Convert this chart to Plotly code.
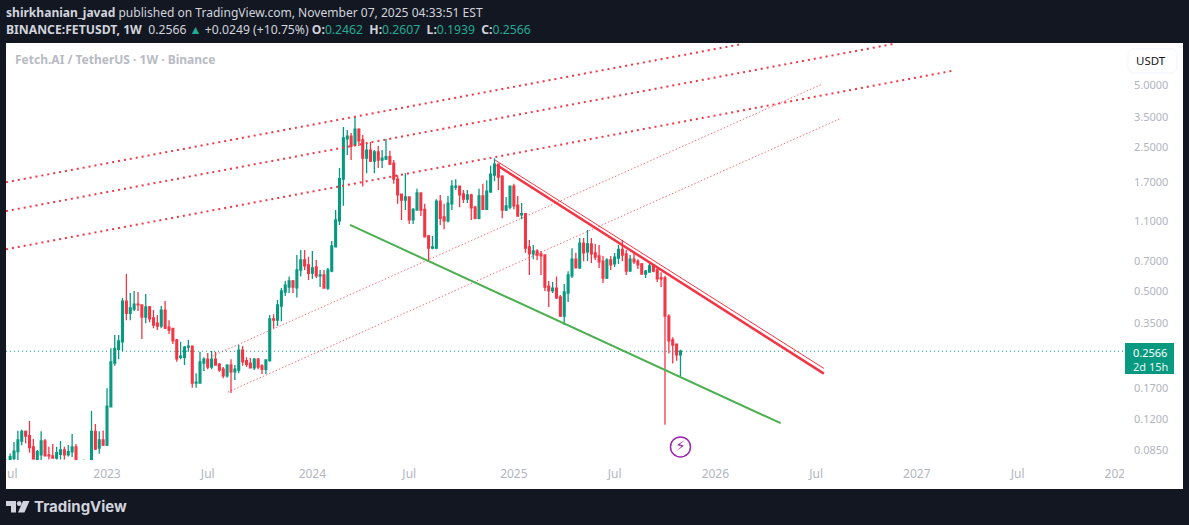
import pandas as pd
import plotly.graph_objects as go

# weekly candles, first one is the week of 2022-07-04
first_week = "2022-07-04"

opens = [
    .068, .0763, .0778, .0837, .0943, .105, .100, .0882, .074, .0807,
    .0943, .0807, .0798, .078, .0813, .0853, .0807, .0835, .0882, .074,
    .069, .072, .073, .105, .0872, .0954, .0902, .138, .225, .262,
    .285, .449, .392, .411, .434, .430, .376, .421, .372, .351,
    .340, .406, .336, .331, .291, .240, .240, .269, .272, .180,
    .180, .225, .235, .215, .235, .222, .210, .195, .220, .204,
    .208, .260, .231, .225, .213, .235, .218, .210, .231, .368,
    .363, .425, .497, .525, .562, .52, .635, .710, .672, .613,
    .657, .595, .601, .519, .627, .822, 1.10, 1.75, 2.74, 2.83,
    2.56, 3.06, 2.71, 2.21, 2.42, 2.14, 2.37, 2.165, 2.19, 2.25,
    2.09, 1.75, 1.48, 1.387, 1.435, 1.11, 1.24, 1.50, 1.25, .928,
    .81, .81, 1.37, 1.15, 1.10, 1.33, 1.60, 1.62, 1.485, 1.40,
    1.467, 1.28, 1.13, 1.45, 1.25, 1.52, 1.83, 2.07, 1.81, 1.24,
    1.28, 1.62, 1.31, 1.174, 1.19, .822, .76, .785, .76, .751,
    .531, .503, .519, .47, .38, .491, .595, .717, .65, .858,
    .777, .85, .768, .743, .702, .581, .71, .68, .725, .80,
    .76, .627, .717, .702, .68, .607, .62, .672, .635, .581,
    .581, .38, .291, .278, .2462,
]
highs = [
    .0768, .082, .0933, .1058, .107, .106, .118, .0965, .0853, .105,
    .0965, .0885, .0912, .0885, .0943, .0885, .0902, .102, .0912, .0755,
    .0768, .075, .132, .114, .105, .106, .170, .265, .308, .308,
    .465, .607, .491, .503, .497, .432, .486, .425, .406, .384,
    .425, .449, .363, .331, .294, .285, .272, .291, .272, .201,
    .255, .240, .252, .257, .255, .225, .215, .222, .235, .220,
    .275, .272, .240, .238, .238, .238, .222, .235, .384, .388,
    .455, .519, .562, .590, .568, .751, .794, .794, .737, .785,
    .710, .635, .635, .650, .878, 1.24, 1.98, 3.13, 3.03, 2.93,
    3.53, 3.09, 2.86, 2.62, 2.65, 2.42, 2.53, 2.42, 2.74, 2.40,
    2.165, 1.83, 1.485, 1.87, 1.44, 1.27, 1.57, 1.50, 1.33, .939,
    .928, 1.40, 1.467, 1.33, 1.45, 1.73, 1.75, 1.62, 1.55, 1.55,
    1.485, 1.30, 1.57, 1.66, 1.73, 2.03, 2.21, 2.07, 1.83, 1.435,
    1.62, 1.66, 1.45, 1.34, 1.19, .888, .84, .80, .785, .751,
    .562, .556, .59, .481, .543, .627, .81, .77, .908, .908,
    .993, .908, .85, .84, .743, .725, .743, .768, .84, .888,
    .794, .751, .768, .717, .687, .635, .695, .68, .65, .62,
    .595, .388, .30, .278, .2607,
]
lows = [
    .065, .0747, .0745, .074, .090, .092, .0827, .0765, .072, .074,
    .0793, .0768, .0775, .0768, .0768, .0768, .0793, .0788, .072, .066,
    .064, .067, .070, .0853, .0817, .0892, .0892, .138, .218, .235,
    .257, .363, .363, .402, .402, .294, .351, .355, .332, .325,
    .332, .329, .311, .278, .228, .235, .220, .255, .171, .171,
    .180, .206, .210, .210, .218, .204, .190, .191, .161, .186,
    .201, .218, .215, .213, .208, .210, .199, .199, .228, .331,
    .340, .359, .475, .491, .491, .468, .590, .635, .568, .575,
    .581, .525, .519, .508, .620, .822, 1.05, 1.30, 2.29, 2.165,
    2.53, 2.53, 1.61, 1.87, 2.12, 1.87, 1.98, 1.98, 2.165, 2.05,
    1.66, 1.33, 1.11, 1.24, 1.06, 1.06, 1.24, 1.16, .92, .70,
    .80, .80, 1.05, 1.00, 1.08, 1.24, 1.55, 1.28, 1.34, 1.34,
    1.11, 1.12, 1.12, 1.24, 1.25, 1.50, 1.71, 1.55, 1.13, 1.225,
    1.25, 1.25, 1.15, 1.12, .77, .60, .717, .71, .60, .503,
    .42, .491, .46, .376, .344, .444, .581, .65, .643, .70,
    .70, .687, .71, .65, .55, .575, .635, .657, .68, .70,
    .60, .627, .68, .643, .607, .581, .62, .62, .556, .525,
    .113, .25, .224, .231, .1939,
]
closes = [
    .072, .0793, .0843, .0954, .105, .0995, .0875, .0773, .0837, .0943,
    .080, .0798, .078, .0827, .0853, .0807, .0837, .0882, .074, .069,
    .072, .073, .105, .0862, .0954, .0902, .139, .228, .265, .288,
    .449, .392, .416, .434, .430, .376, .421, .368, .344, .340,
    .406, .332, .325, .288, .236, .243, .269, .272, .180, .182,
    .228, .235, .215, .235, .220, .208, .195, .220, .204, .210,
    .260, .228, .222, .213, .235, .215, .210, .233, .368, .363,
    .430, .503, .537, .562, .525, .635, .710, .665, .612, .650,
    .595, .601, .519, .635, .831, 1.11, 1.76, 2.77, 2.83, 2.53,
    3.06, 2.68, 2.21, 2.42, 2.14, 2.37, 2.165, 2.21, 2.25, 2.07,
    1.75, 1.467, 1.387, 1.435, 1.11, 1.25, 1.50, 1.24, .92, .81,
    .822, 1.37, 1.13, 1.10, 1.34, 1.62, 1.62, 1.467, 1.40, 1.467,
    1.27, 1.13, 1.45, 1.25, 1.53, 1.85, 2.07, 1.79, 1.24, 1.30,
    1.62, 1.30, 1.16, 1.19, .81, .76, .785, .751, .743, .525,
    .503, .519, .465, .38, .497, .601, .717, .65, .858, .768,
    .85, .76, .734, .695, .581, .71, .672, .734, .80, .751,
    .627, .717, .695, .672, .607, .627, .665, .627, .575, .575,
    .38, .288, .275, .2462, .2566,
]

last_price = 0.2566

# drawings on the chart: two dates, two prices each
channel_top_x = ["2022-07-03 13:00", "2026-02-22"]
channel_top_y = [1.69, 7.90]
channel_mid_x = ["2022-07-03 13:00", "2026-11-22"]
channel_mid_y = [1.225, 7.90]
channel_low_x = ["2022-07-03 13:00", "2027-03-08"]
channel_low_y = [0.80, 5.85]
pink_up_x = ["2023-07-11", "2026-07-17"]
pink_up_y = [0.243, 5.05]
pink_low_x = ["2023-08-08", "2026-08-21"]
pink_low_y = [0.1626, 3.46]
resist_x = ["2024-12-06", "2026-07-20"]
resist_y = [2.05, 0.20]
resist_thin_x = ["2024-12-03", "2026-07-20"]
resist_thin_y = [2.165, 0.212]
support_x = ["2024-03-16", "2026-05-03"]
support_y = [1.05, 0.115]

flash_x = ["2025-11-03"]
flash_y = [0.0883]

price_ticks = [5.0, 3.5, 2.5, 1.7, 1.1, 0.7, 0.5, 0.35, 0.17, 0.12, 0.085]
price_labels = ["5.0000", "3.5000", "2.5000", "1.7000", "1.1000", "0.7000",
                "0.5000", "0.3500", "0.1700", "0.1200", "0.0850"]
time_ticks = ["2023-01-02", "2023-07-03", "2024-01-08", "2024-07-01",
              "2025-01-06", "2025-07-07", "2026-01-05", "2026-07-06", "2027-01-04",
              "2027-07-05", "2028-01-03"]
time_labels = ["2023", "Jul", "2024", "Jul", "2025", "Jul", "2026", "Jul",
               "2027", "Jul", "2028"]

WIDTH, HEIGHT = 1189, 525
LEFT, RIGHT, TOP, BOTTOM = 6, 1124, 43, 460
GREEN = "#089981"
RED = "#f23645"
DARK = "#131722"
GREY = "#b2b5be"
FONT = "Noto Sans"


# page pixels to paper coordinates, for the frame around the chart
def px(x):
    return (x - LEFT) / (RIGHT - LEFT)


def py(y):
    return (BOTTOM - y) / (BOTTOM - TOP)


def pixel_rect(x0, y0, x1, y1, color, layer="below", line=None):
    return dict(type="rect", xref="paper", yref="paper", x0=px(x0), x1=px(x1),
                y0=py(y0), y1=py(y1), fillcolor=color, layer=layer,
                line=line or dict(width=0))


def pixel_path(points):
    return " ".join(("M" if i == 0 else "L") + f"{px(x):.5f},{py(y):.5f}"
                    for i, (x, y) in enumerate(points)) + " Z"


def label(x, y, text, size, color, anchor="left", family=FONT):
    return dict(xref="paper", yref="paper", x=px(x), y=py(y), text=text, showarrow=False,
                xanchor=anchor, yanchor="middle", align=anchor, borderpad=0, borderwidth=0,
                font=dict(family=family, size=size, color=color))


weeks = pd.date_range(first_week, periods=len(opens), freq="7D")

fig = go.Figure()

line_styles = [
    (channel_top_x, channel_top_y, dict(color=RED, width=2, dash="2px,4px")),
    (channel_mid_x, channel_mid_y, dict(color=RED, width=2, dash="2px,4px")),
    (channel_low_x, channel_low_y, dict(color=RED, width=2, dash="2px,4px")),
    (pink_up_x, pink_up_y, dict(color="rgba(242,54,69,0.7)", width=1, dash="1.5px,2px")),
    (pink_low_x, pink_low_y, dict(color="rgba(242,54,69,0.7)", width=1, dash="1.5px,2px")),
    (resist_x, resist_y, dict(color=RED, width=2.5)),
    (resist_thin_x, resist_thin_y, dict(color=RED, width=1)),
    (support_x, support_y, dict(color="#4caf50", width=2)),
]
for xs, ys, style in line_styles:
    fig.add_trace(go.Scatter(x=xs, y=ys, mode="lines", line=style, hoverinfo="skip"))

fig.add_trace(go.Candlestick(
    x=weeks, open=opens, high=highs, low=lows, close=closes,
    increasing=dict(line=dict(color=GREEN, width=1.3), fillcolor=GREEN),
    decreasing=dict(line=dict(color=RED, width=1.3), fillcolor=RED),
    whiskerwidth=0,
))

fig.add_trace(go.Scatter(
    x=flash_x, y=flash_y, mode="markers+text", text=["⚡"], textposition="middle center",
    textfont=dict(family="DejaVu Sans", size=15, color="#9c27b0"),
    marker=dict(size=20, color="white", line=dict(color="#9c27b0", width=1.5)),
    hoverinfo="skip",
))

shapes = [
    pixel_rect(LEFT, TOP, 1183, 489, "white"),
    dict(type="line", xref="paper", yref="y", x0=0, x1=1, y0=last_price, y1=last_price,
         layer="below", line=dict(color=GREEN, width=1, dash="1px,3px")),
    # the last time label is cut off at the price scale
    pixel_rect(RIGHT, 462, 1136, 489, "white", layer="above"),
    pixel_rect(1125, 343, 1174, 374, GREEN, layer="above"),
    dict(type="path", xref="paper", yref="paper", layer="above",
         path=pixel_path([(1132, 49), (1173, 49), (1177, 53), (1177, 69), (1173, 73),
                          (1132, 73), (1128, 69), (1128, 53)]),
         fillcolor="white", line=dict(color="#f0f3fa", width=1)),
    # TradingView logo
    dict(type="path", xref="paper", yref="paper", fillcolor="#d1d4dc", line=dict(width=0),
         path=pixel_path([(6, 501), (16, 501), (16, 512.5), (11, 512.5), (11, 506), (6, 506)])),
    dict(type="circle", xref="paper", yref="paper", fillcolor="#d1d4dc", line=dict(width=0),
         x0=px(16.8), x1=px(21.6), y0=py(506), y1=py(501)),
    dict(type="path", xref="paper", yref="paper", fillcolor="#d1d4dc", line=dict(width=0),
         path=pixel_path([(23, 501), (29.5, 501), (24.5, 512.5), (18, 512.5)])),
]

header_1 = "<b>shirkhanian_javad</b> published on TradingView.com, November 07, 2025 04:33:51 EST"
val = '<span style="color:#22ab94">%s</span>'
gap = "\u00a0"
header_2 = ("<b>BINANCE:FETUSDT, 1W</b>" + gap * 2 + "0.2566 " + val % "▲" + " +0.0249 (+10.75%) "
            + "<b>O:</b>" + val % "0.2462" + gap + " <b>H:</b>" + val % "0.2607"
            + gap + " <b>L:</b>" + val % "0.1939" + gap + " <b>C:</b>" + val % "0.2566")

annotations = [
    label(6, 12.5, header_1, 12.05, "#d1d4dc"),
    label(6, 29.5, header_2, 12.2, "#d1d4dc"),
    label(15, 60, "<b>Fetch.AI / TetherUS · 1W · Binance</b>", 12, "#b8bbc4"),
    label(1151, 61, "USDT", 11.5, "#131722", anchor="center"),
    label(1133, 352, "0.2566", 11, "white"),
    label(1133, 366, "2d 15h", 11, "#e6f5f2"),
    label(7, 473, "ul", 12, GREY),
    label(34, 506.5, "<b>TradingView</b>", 15, "#d1d4dc", family="Inter"),
]

fig.update_layout(
    width=WIDTH,
    height=HEIGHT,
    autosize=False,
    margin=dict(l=LEFT, r=WIDTH - RIGHT, t=TOP, b=HEIGHT - BOTTOM, pad=0),
    paper_bgcolor=DARK,
    plot_bgcolor="rgba(0,0,0,0)",
    showlegend=False,
    boxgap=0.35,
    font=dict(family=FONT, size=11, color=GREY),
    shapes=shapes,
    annotations=annotations,
    xaxis=dict(
        type="date",
        range=["2022-07-03 13:00", "2028-01-13 05:00"],
        rangeslider=dict(visible=False),
        showgrid=False, zeroline=False, showline=False,
        tickmode="array", tickvals=time_ticks, ticktext=time_labels,
        ticks="", tickangle=0, ticklabelstandoff=5,
        tickfont=dict(family=FONT, size=12, color=GREY),
    ),
    yaxis=dict(
        type="log",
        side="right",
        range=[-1.1175, 0.9025],
        showgrid=False, zeroline=False, showline=False,
        tickmode="array", tickvals=price_ticks, ticktext=price_labels,
        ticks="", ticklabelstandoff=9,
        tickfont=dict(family=FONT, size=11, color=GREY),
    ),
)

# the page keeps the browser's default body margin otherwise
fig.write_html("out.html", config=dict(displayModeBar=False),
               post_script="document.body.style.margin = '0';")
